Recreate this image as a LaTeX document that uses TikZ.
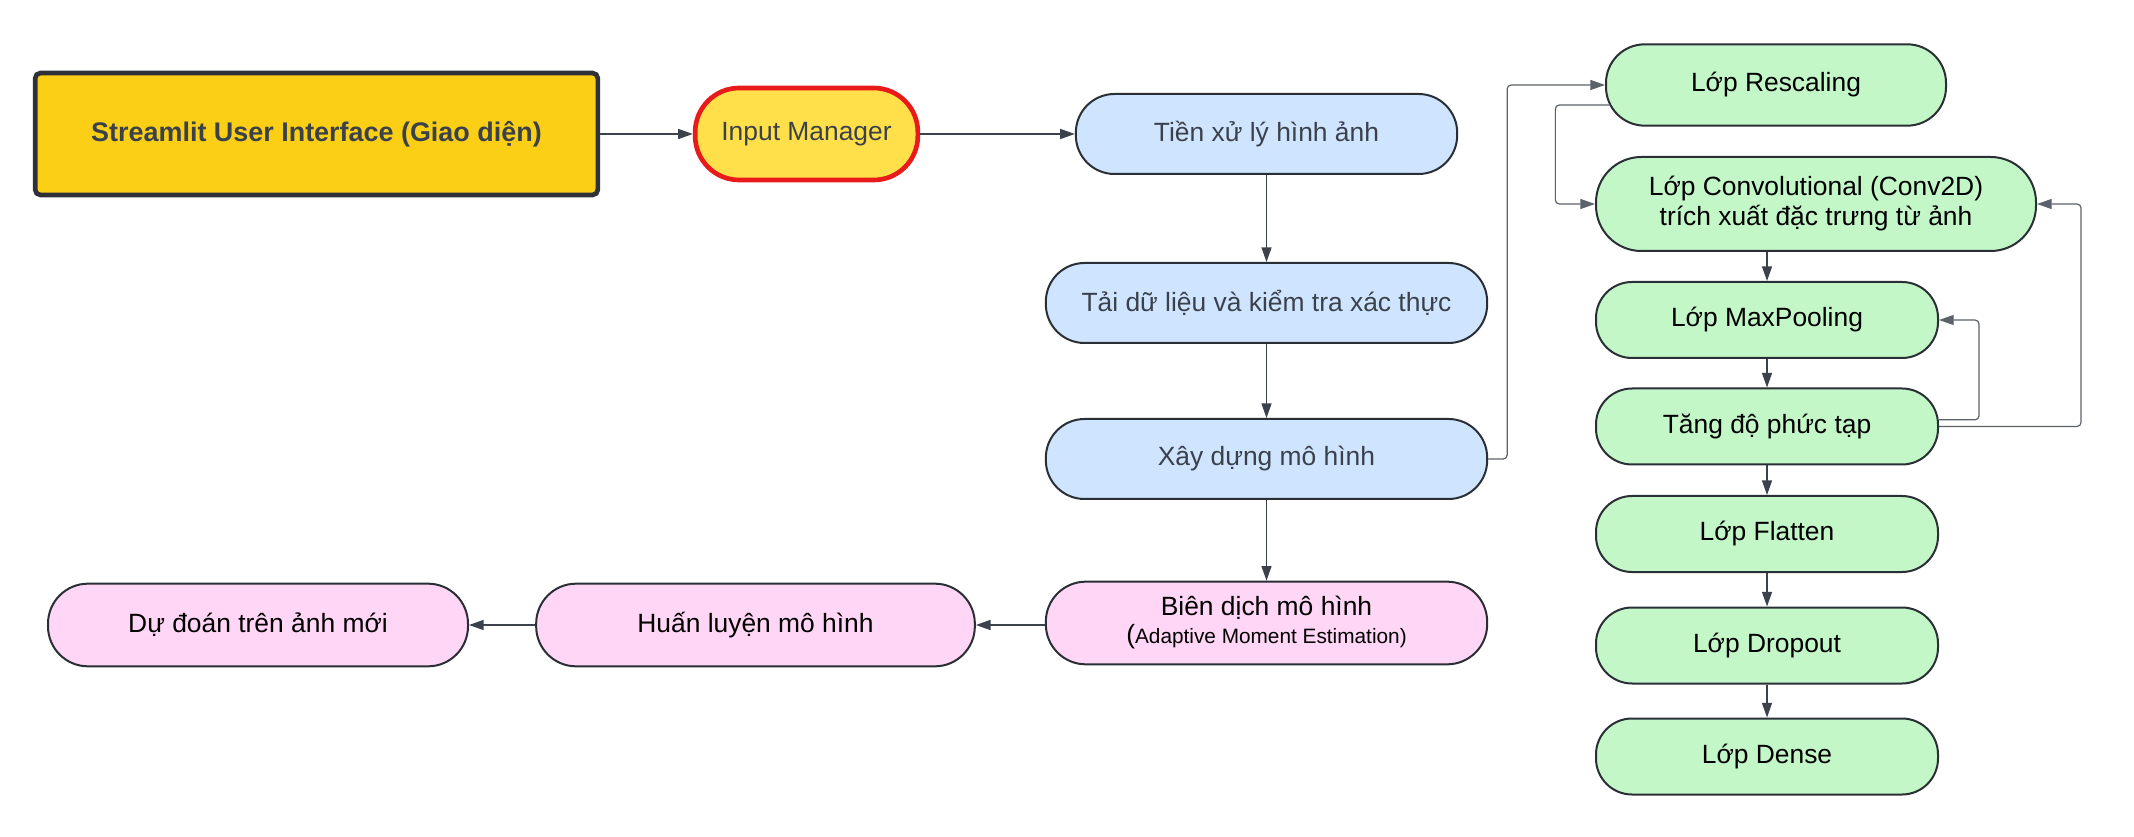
\documentclass[tikz,border=0pt]{standalone}
\usepackage{fontspec}
\setmainfont{Liberation Sans}
\usetikzlibrary{arrows.meta}
\definecolor{uiyellow}{HTML}{FCCF17}
\definecolor{uiedge}{HTML}{2E3238}
\definecolor{inyellow}{HTML}{FFE04A}
\definecolor{inred}{HTML}{E81A1A}
\definecolor{bluefill}{HTML}{CFE4FF}
\definecolor{greenfill}{HTML}{C3F7C8}
\definecolor{pinkfill}{HTML}{FFD6F5}
\definecolor{edge}{HTML}{2A2E35}
\definecolor{darktext}{HTML}{3A414A}
\definecolor{linecol}{HTML}{3B424C}
\definecolor{loopcol}{HTML}{5C626A}

\begin{document}
\begin{tikzpicture}[x=0.75pt,y=-0.75pt,
 base/.style={draw=edge,line width=1.5pt,inner sep=0pt,align=center,font=\fontsize{19.8}{22.5}\selectfont},
 uibox/.style={base,fill=uiyellow,draw=uiedge,line width=3.5pt,rounded corners=4pt,text=darktext},
 inbox/.style={base,fill=inyellow,draw=inred,line width=3.5pt,rounded corners=33pt,text=darktext},
 bluebox/.style={base,fill=bluefill,text=darktext,minimum height=60pt,rounded corners=29pt},
 greenbox/.style={base,fill=greenfill,minimum width=256.5pt,minimum height=57pt,rounded corners=27pt},
 pinkbox/.style={base,fill=pinkfill,minimum height=62pt,rounded corners=30pt},
 arr/.style={draw=linecol,line width=1.1pt,-{Triangle[length=11pt,width=7.5pt]}},
 looparr/.style={arr,draw=loopcol,line width=0.9pt,rounded corners=3pt}]
 \useasboundingbox (0,0) rectangle (2134,837);

 \node[uibox,minimum width=422pt,minimum height=91.5pt,font=\fontsize{20.2}{24}\selectfont] (ui) at (316.5,134) {\textbf{Streamlit User Interface (Giao diện)}};
 \node[inbox,minimum width=167pt,minimum height=69pt] (inp) at (806.5,134) {Input Manager};

 \node[bluebox,minimum width=286pt] (tien) at (1266.5,134) {Tiền xử lý hình ảnh};
 \node[bluebox,minimum width=331pt] (tai) at (1266.5,303) {Tải dữ liệu và kiểm tra xác thực};
 \node[bluebox,minimum width=331pt] (xay) at (1266.5,459) {Xây dựng mô hình};
 \node[pinkbox,minimum width=331pt,font=\fontsize{19.8}{21}\selectfont] (bien) at (1266.5,623) {Biên dịch mô hình\\{\fontsize{19.8}{21}\selectfont(}{\fontsize{15.6}{18}\selectfont Adaptive Moment Estimation)}};
 \node[pinkbox,minimum width=329pt] (huan) at (755.5,625) {Huấn luyện mô hình};
 \node[pinkbox,minimum width=315pt] (dudoan) at (258,625) {Dự đoán trên ảnh mới};

 \node[greenbox,minimum width=255pt,minimum height=61pt,rounded corners=29pt] (resc) at (1776,85) {Lớp Rescaling};
 \node[greenbox,minimum width=330pt,minimum height=70.5pt,rounded corners=34pt] (conv) at (1816,204) {Lớp Convolutional (Conv2D)\\trích xuất đặc trưng từ ảnh};
 \node[greenbox] (maxp) at (1767,320) {Lớp MaxPooling};
 \node[greenbox] (tang) at (1767,426.5) {Tăng độ phức tạp};
 \node[greenbox] (flat) at (1767,534) {Lớp Flatten};
 \node[greenbox] (drop) at (1767,645.5) {Lớp Dropout};
 \node[greenbox] (dense) at (1767,756.5) {Lớp Dense};

 \draw[arr] (ui) -- (inp);
 \draw[arr] (inp) -- (tien);
 \draw[arr] (tien) -- (tai);
 \draw[arr] (tai) -- (xay);
 \draw[arr] (xay) -- (bien);
 \draw[arr] (bien.west |- huan) -- (huan);
 \draw[arr] (huan) -- (dudoan);

 \draw[looparr] (xay.east) -- ++(19,0) |- (resc.west);
 \draw[looparr] ([xshift=4pt,yshift=-15pt]resc.west) -- ++(-55,0) |- (conv.west);
 \draw[looparr] ([yshift=5pt]tang.east) -- ++(40,0) |- (maxp.east);
 \draw[looparr] (tang.east) -- ++(142,0) |- (conv.east);

 \draw[arr] (maxp.north |- conv.south) -- (maxp);
 \draw[arr] (maxp) -- (tang);
 \draw[arr] (tang) -- (flat);
 \draw[arr] (flat) -- (drop);
 \draw[arr] (drop) -- (dense);
\end{tikzpicture}
\end{document}
